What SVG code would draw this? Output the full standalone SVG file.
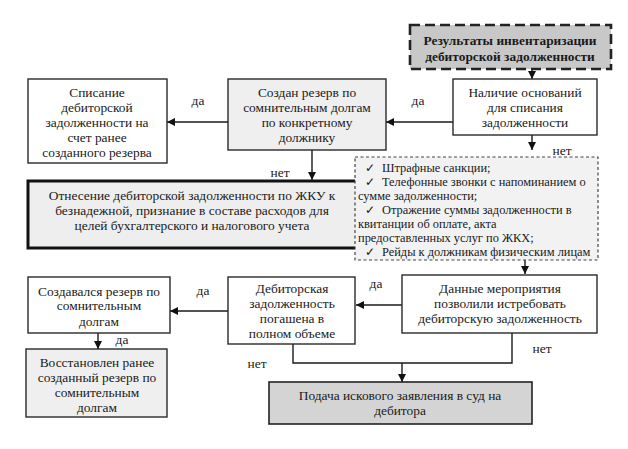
<svg xmlns="http://www.w3.org/2000/svg" width="628" height="449" viewBox="0 0 628 449">
<defs>
<marker id="ah" viewBox="0 0 10 10" refX="10" refY="5" markerWidth="8" markerHeight="8" markerUnits="userSpaceOnUse" orient="auto">
<path d="M0,0 L10,5 L0,10 z" fill="#111"/>
</marker>
<style>
.b{stroke:#2a2a2a;stroke-width:1.4;fill:#fff}
.g{fill:#efefef}
text{font-family:'Liberation Serif','Times New Roman',serif}
.t{font-size:13.4px;fill:#1a1a1a;text-anchor:middle}
.s{font-size:12.4px;fill:#1a1a1a}
.c{fill:none;stroke:#1a1a1a;stroke-width:1.4}
.a{marker-end:url(#ah)}
</style>
</defs>
<rect width="628" height="449" fill="#fff"/>
<g id="connectors">
<line class="c a" x1="532" y1="69" x2="532" y2="79"/>
<line class="c a" x1="453" y1="122" x2="386" y2="122"/>
<line class="c a" x1="228" y1="122" x2="167" y2="122"/>
<line class="c a" x1="312" y1="150" x2="312" y2="180"/>
<line class="c a" x1="532" y1="135" x2="532" y2="150"/>
<line class="c a" x1="525" y1="260" x2="525" y2="274"/>
<line class="c a" x1="402" y1="305" x2="356" y2="305"/>
<line class="c a" x1="228" y1="311" x2="170" y2="311"/>
<line class="c a" x1="98" y1="333" x2="98" y2="349"/>
<polyline class="c" points="293,344 293,363 512,363 512,333"/>
<line class="c a" x1="402" y1="363" x2="402" y2="382"/>
<text class="t" x="198" y="105">да</text>
<text class="t" x="418" y="105">да</text>
<text class="t" x="376" y="288">да</text>
<text class="t" x="203" y="295">да</text>
<text class="t" x="122" y="344">да</text>
<text class="t" x="280" y="177">нет</text>
<text class="t" x="562" y="155">нет</text>
<text class="t" x="257" y="368">нет</text>
<text class="t" x="542" y="353">нет</text>
</g>
<g id="n1">
<rect x="410" y="25" width="201" height="44" fill="#c8c8c8" stroke="#222" stroke-width="2.6" stroke-dasharray="10,5"/>
<text class="t" x="510" y="45" font-weight="bold">Результаты инвентаризации</text>
<text class="t" x="510" y="61" font-weight="bold">дебиторской задолженности</text>
</g>
<g id="n2">
<rect class="b" x="453" y="79" width="144" height="56"/>
<text class="t" x="525" y="97">Наличие оснований</text>
<text class="t" x="525" y="112">для списания</text>
<text class="t" x="525" y="127">задолженности</text>
</g>
<g id="n3">
<rect class="b g" x="228" y="79" width="158" height="71"/>
<text class="t" x="307" y="97">Создан резерв по</text>
<text class="t" x="307" y="112">сомнительным долгам</text>
<text class="t" x="307" y="127">по конкретному</text>
<text class="t" x="307" y="142">должнику</text>
</g>
<g id="n4">
<rect class="b" x="28" y="79" width="139" height="84"/>
<text class="t" x="97" y="97">Списание</text>
<text class="t" x="97" y="112">дебиторской</text>
<text class="t" x="97" y="127">задолженности на</text>
<text class="t" x="97" y="142">счет ранее</text>
<text class="t" x="97" y="157">созданного резерва</text>
</g>
<g id="n5">
<rect x="28" y="181" width="329" height="67" fill="#eeeeee" stroke="#111" stroke-width="3"/>
<text class="t" x="192" y="200">Отнесение дебиторской задолженности по ЖКУ к</text>
<text class="t" x="192" y="215">безнадежной, признание в составе расходов для</text>
<text class="t" x="192" y="230">целей бухгалтерского и налогового учета</text>
</g>
<g id="n6">
<rect x="355" y="157" width="243" height="103" fill="#f2f2f2" stroke="#444" stroke-width="1.2" stroke-dasharray="3,2.5"/>
<text class="s" x="365" y="172">✓</text><text class="s" x="382" y="172">Штрафные санкции;</text>
<text class="s" x="365" y="186">✓</text><text class="s" x="382" y="186">Телефонные звонки с напоминанием о</text>
<text class="s" x="358" y="200">сумме задолженности;</text>
<text class="s" x="365" y="214">✓</text><text class="s" x="382" y="214">Отражение суммы задолженности в</text>
<text class="s" x="358" y="228">квитанции об оплате, акта</text>
<text class="s" x="358" y="242">предоставленных услуг по ЖКХ;</text>
<text class="s" x="365" y="256">✓</text><text class="s" x="382" y="256">Рейды к должникам физическим лицам</text>
</g>
<g id="n7">
<rect class="b" x="402" y="275" width="195" height="58"/>
<text class="t" x="500" y="293">Данные мероприятия</text>
<text class="t" x="500" y="308">позволили  истребовать</text>
<text class="t" x="500" y="323">дебиторскую задолженность</text>
</g>
<g id="n8">
<rect class="b" x="228" y="277" width="127" height="67"/>
<text class="t" x="292" y="293">Дебиторская</text>
<text class="t" x="292" y="308">задолженность</text>
<text class="t" x="292" y="323">погашена в</text>
<text class="t" x="292" y="338">полном объеме</text>
</g>
<g id="n9">
<rect class="b" x="28" y="277" width="142" height="56"/>
<text class="t" x="99" y="296">Создавался резерв по</text>
<text class="t" x="99" y="310">сомнительным</text>
<text class="t" x="99" y="326">долгам</text>
</g>
<g id="n10">
<rect class="b g" x="26" y="349" width="141" height="68"/>
<text class="t" x="97" y="367">Восстановлен ранее</text>
<text class="t" x="97" y="382">созданный резерв  по</text>
<text class="t" x="97" y="397">сомнительным</text>
<text class="t" x="97" y="412">долгам</text>
</g>
<g id="n11">
<rect x="269" y="382" width="263" height="42" fill="#d4d4d4" stroke="#222" stroke-width="1.6"/>
<text class="t" x="400" y="400">Подача искового заявления в суд на</text>
<text class="t" x="400" y="415">дебитора</text>
</g>
</svg>
